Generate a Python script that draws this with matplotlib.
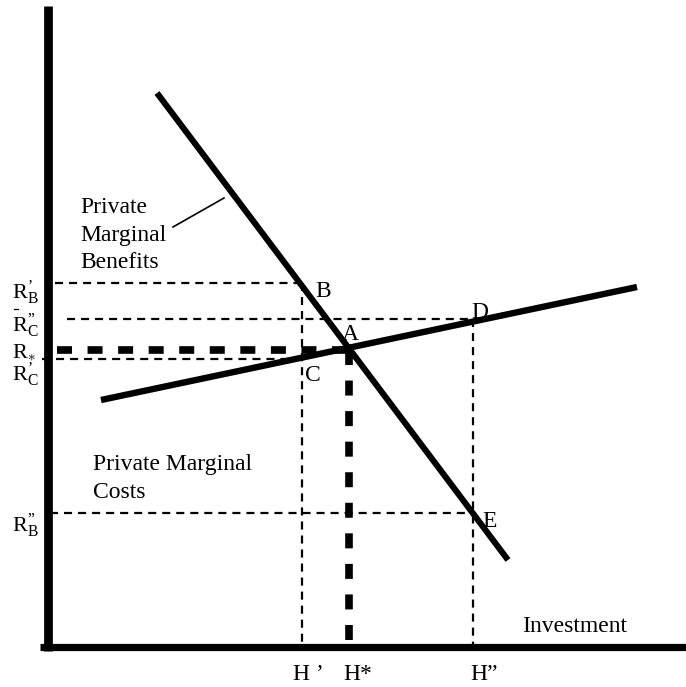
import matplotlib
matplotlib.use('Agg')
import matplotlib.pyplot as plt

plt.rcParams['font.family'] = ['Liberation Serif', 'DejaVu Serif']
plt.rcParams['mathtext.fontset'] = 'custom'
plt.rcParams['mathtext.rm'] = 'Liberation Serif'
plt.rcParams['mathtext.it'] = 'Liberation Serif:italic'
plt.rcParams['mathtext.bf'] = 'Liberation Serif:bold'
plt.rcParams['lines.scale_dashes'] = False

# schematic coordinates (diagram units, y grows downward)
benefits_x = [157, 508]
benefits_y = [93, 560]
costs_x = [101, 637]
costs_y = [400, 287]

# reference levels
h_prime, h_star, h_dprime = 302, 349, 473
y_rb1, y_rc2, y_star, y_rc1, y_rb2 = 283, 319, 350, 359, 513
axis_bottom = 647

r_labels = [r'$\mathrm{R}^{\mathrm{’}}_{\mathrm{B}}$', r'$\mathrm{R}^{\mathrm{”}}_{\mathrm{C}}$',
            r'$\mathrm{R}_{\ast}$', r'$\mathrm{R}^{\mathrm{’}}_{\mathrm{C}}$', r'$\mathrm{R}^{\mathrm{”}}_{\mathrm{B}}$']
r_baselines = [299, 332, 357, 381, 532]
h_labels = ['H ’', 'H*', 'H”']
h_lefts = [293, 343, 470]

fig = plt.figure(figsize=(6.86, 6.87), dpi=100)
ax = fig.add_axes([0, 0, 1, 1])
ax.set_xlim(0, 686)
ax.set_ylim(687, 0)
ax.axis('off')

thin = dict(color='black', lw=1.6, dashes=(5.8, 4.3), dash_capstyle='butt')
thick = dict(color='black', lw=5.5, dashes=(10.8, 11.2), dash_capstyle='butt')

# dashed guides
ax.plot([55, h_prime], [y_rb1, y_rb1], **thin)
ax.plot([67, h_dprime], [y_rc2, y_rc2], **thin)
ax.plot([42, h_prime], [y_rc1, y_rc1], **thin)
ax.plot([50, h_dprime], [y_rb2, y_rb2], **thin)
ax.plot([h_prime, h_prime], [y_rb1, axis_bottom], **thin)
ax.plot([h_dprime, h_dprime], [y_rc2, axis_bottom], **thin)
ax.plot([57, h_star], [y_star, y_star], **thick)
ax.plot([h_star, h_star], [y_star, axis_bottom], **thick)

# curves
ax.plot(benefits_x, benefits_y, color='black', lw=4.4, solid_capstyle='butt')
ax.plot(costs_x, costs_y, color='black', lw=4.6, solid_capstyle='butt')

# axes
ax.plot([47.5, 47.5], [6, 651], color='black', lw=6.3, solid_capstyle='butt')
ax.plot([40, 686], [axis_bottom, axis_bottom], color='black', lw=5.2, solid_capstyle='butt')

fs = 17

# curve labels
ax.text(80, 213, 'Private', fontsize=fs, va='baseline')
ax.text(80, 241, 'Marginal', fontsize=fs, va='baseline')
ax.text(80, 268, 'Benefits', fontsize=fs, va='baseline')
ax.plot([173, 224], [227, 198], color='black', lw=1.2)
ax.text(93, 470, 'Private Marginal', fontsize=fs, va='baseline')
ax.text(93, 498, 'Costs', fontsize=fs, va='baseline')
ax.text(522, 632, 'Investment', fontsize=fs, va='baseline')

# point labels
ax.text(315, 297, 'B', fontsize=fs, va='baseline')
ax.text(342, 340, 'A', fontsize=fs, va='baseline')
ax.text(471, 318, 'D', fontsize=fs, va='baseline')
ax.text(305, 381, 'C', fontsize=fs, va='baseline')
ax.text(482, 527, 'E', fontsize=fs, va='baseline')

# vertical axis labels
for lab, yb in zip(r_labels, r_baselines):
    ax.text(12, yb, lab, fontsize=16, va='baseline')
ax.plot([13.5, 18], [308.5, 308.5], color='black', lw=0.9)  # small bar over R''C

# horizontal axis labels
for lab, xl in zip(h_labels, h_lefts):
    ax.text(xl, 680, lab, fontsize=fs, va='baseline')

fig.savefig('out.png', dpi=100)
